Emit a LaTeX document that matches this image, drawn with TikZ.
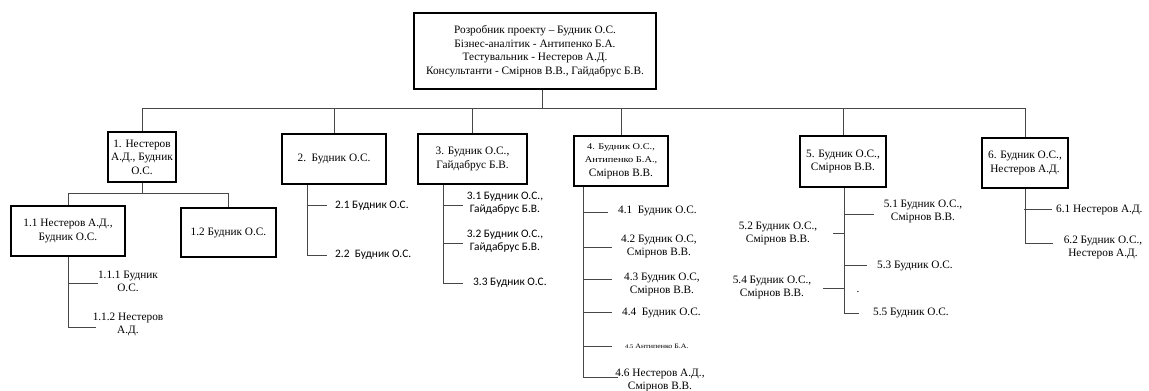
\documentclass[tikz,border=0pt]{standalone}
\usepackage{fontspec}
\setmainfont{Liberation Serif}
\newfontfamily\calib{Carlito}
\newfontfamily\wideserif[FakeStretch=1.18]{Liberation Serif}
\newcommand\smallpt{\wideserif\fontsize{8.8}{11}\selectfont}
\begin{document}
\begin{tikzpicture}[x=1pt,y=-1pt,
  box/.style={draw=black,line width=2.2pt,fill=white,align=center,inner sep=1pt,
    font=\fontsize{11.3}{13.5}\selectfont},
  leaf/.style={align=center,inner sep=0pt,font=\fontsize{11.3}{13}\selectfont},
  sleaf/.style={align=center,inner sep=0pt,font=\calib\fontsize{11.4}{12.5}\selectfont},
  conn/.style={draw=black!72,line width=0.9pt}]
\useasboundingbox (0,0) rectangle (1149,391);

% --- work packages (boxes) ---
\node[box,minimum width=242pt,minimum height=76pt] (top) at (535,51)
  {Розробник проекту – Будник О.С.\\Бізнес-аналітик - Антипенко Б.А.\\
   Тестувальник - Нестеров А.Д.\\Консультанти - Смірнов В.В., Гайдабрус Б.В.};
\node[box,minimum width=68pt,minimum height=50pt] (b1) at (142,157)
  {1. Нестеров\\А.Д., Будник\\О.С.};
\node[box,minimum width=104pt,minimum height=50pt] (b2) at (334,159)
  {2.~~Будник О.С.};
\node[box,minimum width=109pt,minimum height=50pt] (b3) at (472.5,159)
  {3. Будник О.С.,\\Гайдабрус Б.В.};
\node[box,minimum width=94pt,minimum height=50pt] (b4) at (621,161)
  {{\smallpt 4. Будник О.С.,}\\{\smallpt Антипенко Б.А.,}\\Смірнов В.В.};
\node[box,minimum width=86pt,minimum height=51pt] (b5) at (843,161.5)
  {5. Будник О.С.,\\Смірнов В.В.};
\node[box,minimum width=86pt,minimum height=50pt] (b6) at (1025,163)
  {6. Будник О.С.,\\Нестеров А.Д.};
\node[box,minimum width=114pt,minimum height=50pt] (b11) at (68,231)
  {1.1 Нестеров А.Д.,\\Будник О.С.};
\node[box,minimum width=95pt,minimum height=49pt] (b12) at (228.5,232.5)
  {1.2 Будник О.С.};

% --- top level bus ---
\coordinate (bus) at (0,108);
\draw[conn] ([xshift=7pt]top.south) -- ([xshift=7pt]top.south |- bus);
\draw[conn] (b1.north) -- (b1.north |- bus) -- (b6.north |- bus) -- (b6.north);
\foreach \b in {b2,b3,b4,b5} \draw[conn] (\b.north) -- (\b.north |- bus);

% --- branch 1 ---
\coordinate (bus1) at (0,193);
\draw[conn] (b1.south) -- (b1.south |- bus1);
\draw[conn] (b11.north) -- (b11.north |- bus1) -- (b12.north |- bus1) -- (b12.north);
\coordinate (e111) at (98,283);
\coordinate (e112) at (96,327);
\draw[conn] (b11.south) -- (b11.south |- e112) -- (e112);
\draw[conn] (b11.south |- e111) -- (e111);
\node[leaf] (l111) at (128,281) {1.1.1 Будник\\О.С.};
\node[leaf] (l112) at (128,324) {1.1.2 Нестеров\\А.Д.};

% --- branch 2 ---
\coordinate (s2) at (307,0);
\coordinate (e21) at (327,205);
\coordinate (e22) at (327,255);
\draw[conn] (b2.south -| s2) -- (s2 |- e22) -- (e22);
\draw[conn] (s2 |- e21) -- (e21);
\node[sleaf,anchor=west] (l21) at (335,206) {2.1 Будник О.С.};
\node[sleaf,anchor=west] (l22) at (335,255) {2.2~~Будник О.С.};

% --- branch 3 ---
\coordinate (s3) at (443,0);
\coordinate (e31) at (463,205);
\coordinate (e32) at (463,243);
\coordinate (e33) at (463,283);
\draw[conn] (b3.south -| s3) -- (s3 |- e33) -- (e33);
\foreach \e in {e31,e32} \draw[conn] (s3 |- \e) -- (\e);
\node[sleaf] (l31) at (505,203) {3.1 Будник О.С.,\\Гайдабрус Б.В.};
\node[sleaf] (l32) at (505,241) {3.2 Будник О.С.,\\Гайдабрус Б.В.};
\node[sleaf,anchor=west] (l33) at (473,283) {3.3 Будник О.С.};

% --- branch 4 ---
\coordinate (s4) at (583,0);
\coordinate (e41) at (608,212);
\coordinate (e42) at (612,247);
\coordinate (e43) at (612,279);
\coordinate (e44) at (612,312);
\coordinate (e45) at (612,346);
\coordinate (e46) at (618,377);
\draw[conn] (b4.south -| s4) -- (s4 |- e46) -- (e46);
\foreach \e in {e41,e42,e43,e44,e45} \draw[conn] (s4 |- \e) -- (\e);
\node[leaf,anchor=west] (l41) at (618,211) {4.1~~Будник О.С.};
\node[leaf] (l42) at (659,246) {4.2 Будник О.С,\\Смірнов В.В.};
\node[leaf] (l43) at (662,284) {4.3 Будник О.С,\\Смірнов В.В.};
\node[leaf,anchor=west] (l44) at (622,313) {4.4~~Будник О.С.};
\node[leaf,anchor=west,font=\wideserif\fontsize{6.7}{9}\selectfont] (l45) at (625,346)
  {{\fontsize{5.6}{9}\selectfont 4.5} Антипенко Б.А.};
\node[leaf] (l46) at (660,380) {4.6 Нестеров А.Д.,\\Смірнов В.В.};

% --- branch 5 ---
\coordinate (s5) at (844,0);
\coordinate (e51) at (874,214);
\coordinate (e52) at (833,233);
\coordinate (e53) at (867,265);
\coordinate (e54) at (823,288);
\coordinate (e55) at (859,313);
\draw[conn] (b5.south -| s5) -- (s5 |- e55) -- (e55);
\foreach \e in {e51,e52,e53,e54} \draw[conn] (s5 |- \e) -- (\e);
\node[leaf] (l51) at (923,211) {5.1 Будник О.С.,\\Смірнов В.В.};
\node[leaf] (l52) at (778,233) {5.2 Будник О.С.,\\Смірнов В.В.};
\node[leaf,anchor=west] (l53) at (877,266) {5.3 Будник О.С.};
\node[leaf] (l54) at (772,287) {5.4 Будник О.С.,\\Смірнов В.В.};
\node[leaf] (dot5) at (858,292) {.};
\node[leaf,anchor=west] (l55) at (873,313) {5.5 Будник О.С.};

% --- branch 6 ---
\coordinate (e61) at (1052,209);
\coordinate (e62) at (1053,243);
\draw[conn] (b6.south) -- (b6.south |- e62) -- (e62);
\draw[conn] ([xshift=-1pt]b6.south |- e61) -- (e61);
\node[leaf,anchor=west] (l61) at (1056,210) {6.1 Нестеров А.Д.};
\node[leaf] (l62) at (1103,247) {6.2 Будник О.С.,\\Нестеров А.Д.};
\end{tikzpicture}
\end{document}
